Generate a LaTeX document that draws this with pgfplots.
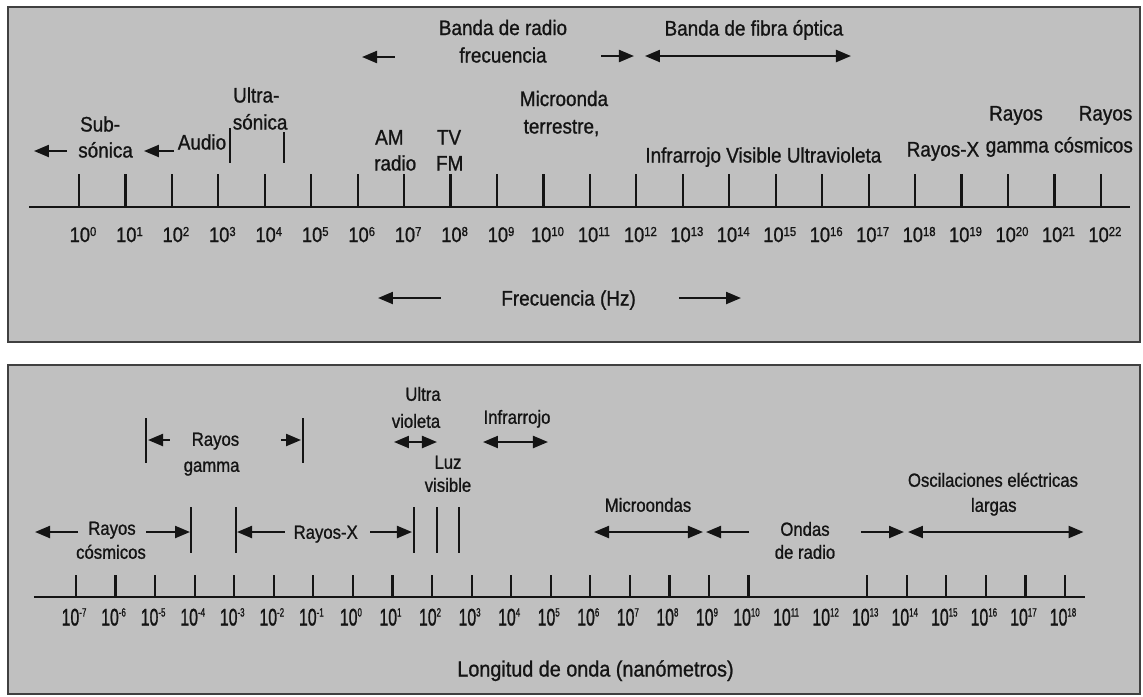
\documentclass[border=0pt]{standalone}
\usepackage{pgfplots}
\pgfplotsset{compat=1.18}
\usepackage{fontspec}
\setmainfont{Liberation Sans}
\newfontfamily\topf[FakeStretch=0.9,FakeBold=1]{Liberation Sans}
\newfontfamily\botf[FakeStretch=0.88,FakeBold=1]{Liberation Sans}
\newfontfamily\tickAf[FakeStretch=0.87,FakeBold=1]{Liberation Sans}
\newfontfamily\tickBf[FakeStretch=0.66,FakeBold=1]{Liberation Sans}
\usetikzlibrary{arrows.meta}
\definecolor{bgc}{RGB}{192,192,192}
\definecolor{framec}{RGB}{64,64,64}
\definecolor{ink}{RGB}{20,20,20}
\tikzset{
  tl/.style={font=\topf\fontsize{21}{21}\selectfont, text=ink, text height=15pt, text depth=0pt, inner sep=0pt, anchor=center},
  bl/.style={font=\botf\fontsize{19}{19}\selectfont, text=ink, text height=13.5pt, text depth=0pt, inner sep=0pt, anchor=center},
  tka/.style={font=\tickAf\fontsize{21}{21}\selectfont, text=ink, text height=15pt, text depth=0pt, inner sep=0pt, anchor=center},
  tkb/.style={font=\tickBf\fontsize{24}{24}\selectfont, text=ink, text height=17pt, text depth=0pt, inner sep=0pt, anchor=center},
  ar/.style={line width=2.2pt, draw=ink, -{Triangle[length=15pt,width=12pt]}},
  dar/.style={line width=2.2pt, draw=ink, {Triangle[length=15pt,width=12pt]}-{Triangle[length=15pt,width=12pt]}},
  vl/.style={line width=2.2pt, draw=ink},
}
\begin{document}
\begin{tikzpicture}
\useasboundingbox (0pt,0pt) rectangle (1143pt,-696pt);
% ---------------- top panel: frequency ----------------
\begin{axis}[at={(8pt,-7pt)}, anchor=north west, scale only axis,
  width=1132pt, height=335pt,
  xmin=-1.5285, xmax=22.842, ymin=7, ymax=342, y dir=reverse,
  xtick=\empty, ytick=\empty,
  axis background/.style={fill=bgc},
  axis line style={draw=framec, line width=2pt}, clip=false]
\addplot[vl, no markers] coordinates {(-1.076,207) (22.63,207)};
\addplot[vl, no markers, quiver={u=0,v=-33}] table {
x y
0 207
1 207
2 207
3 207
4 207
5 207
6 207
7 207
8 207
9 207
10 207
11 207
12 207
13 207
14 207
15 207
16 207
17 207
18 207
19 207
20 207
21 207
22 207
};
% tick labels 10^k
\pgfplotsinvokeforeach{0,...,22}{
  \node[tka, xshift=4pt] at (axis cs:#1,234.5) {10\raisebox{6pt}{\fontsize{13}{13}\selectfont #1}};
}
% marker lines
\addplot[vl, no markers] coordinates {(3.251,128) (3.251,163)};
\addplot[vl, no markers] coordinates {(4.413,132) (4.413,163)};
% arrows
\addplot[ar, no markers] coordinates {(-0.258,151) (-0.969,151)};
\addplot[ar, no markers] coordinates {(2.045,151) (1.399,151)};
\addplot[ar, no markers] coordinates {(6.803,57) (6.093,57)};
\addplot[ar, no markers] coordinates {(11.238,56) (11.948,56)};
\addplot[dar, no markers] coordinates {(12.185,56) (16.620,56)};
\addplot[ar, no markers] coordinates {(7.793,298) (6.437,298)};
\addplot[ar, no markers] coordinates {(12.917,298) (14.252,298)};
% labels
\node[tl, anchor=west] at (axis cs:0.02,124) {Sub-};
\node[tl, anchor=west] at (axis cs:-0.02,150) {sónica};
\node[tl] at (axis cs:2.648,142) {Audio};
\node[tl, anchor=west] at (axis cs:3.315,95) {Ultra-};
\node[tl, anchor=west] at (axis cs:3.307,122) {sónica};
\node[tl, anchor=west] at (axis cs:6.372,137) {AM};
\node[tl, anchor=west] at (axis cs:6.351,163) {radio};
\node[tl] at (axis cs:7.966,137) {TV};
\node[tl] at (axis cs:7.98,163) {FM};
\node[tl] at (axis cs:9.128,27.5) {Banda de radio};
\node[tl] at (axis cs:9.128,55) {frecuencia};
\node[tl] at (axis cs:10.441,98.5) {Microonda};
\node[tl] at (axis cs:10.387,126) {terrestre,};
\node[tl] at (axis cs:14.734,155) {Infrarrojo Visible Ultravioleta};
\node[tl] at (axis cs:18.60,149) {Rayos-X};
\node[tl] at (axis cs:20.172,113) {Rayos};
\node[tl] at (axis cs:20.2,145) {gamma};
\node[tl] at (axis cs:22.1,113) {Rayos};
\node[tl] at (axis cs:21.84,145) {cósmicos};
\node[tl] at (axis cs:14.53,28) {Banda de fibra óptica};
\node[tl] at (axis cs:10.54,298) {Frecuencia (Hz)};
\end{axis}
% ---------------- bottom panel: wavelength ----------------
\begin{axis}[at={(8pt,-365pt)}, anchor=north west, scale only axis,
  width=1132pt, height=329pt,
  xmin=-8.7189, xmax=19.896, ymin=365, ymax=694, y dir=reverse,
  xtick=\empty, ytick=\empty,
  axis background/.style={fill=bgc},
  axis line style={draw=framec, line width=2pt}, clip=false]
\addplot[vl, no markers] coordinates {(-8.062,597) (18.505,597)};
\addplot[vl, no markers, quiver={u=0,v=-22}] table {
x y
-7 597
-6 597
-5 597
-4 597
-3 597
-2 597
-1 597
0 597
1 597
2 597
3 597
4 597
5 597
6 597
7 597
8 597
9 597
10 597
13 597
14 597
15 597
16 597
17 597
18 597
};
% tick labels 10^k
\pgfplotsinvokeforeach{-7,...,18}{
  \node[tkb, xshift=-2pt] at (axis cs:#1,617) {10\raisebox{9pt}{\fontsize{12}{12}\selectfont #1}};
}
% marker lines
\addplot[vl, no markers] coordinates {(-4.093,507) (-4.093,553)};
\addplot[vl, no markers] coordinates {(-2.956,507) (-2.956,553)};
\addplot[vl, no markers] coordinates {(1.544,507) (1.544,553)};
\addplot[vl, no markers] coordinates {(2.125,507) (2.125,553)};
\addplot[vl, no markers] coordinates {(2.681,507) (2.681,553)};
\addplot[vl, no markers] coordinates {(-5.230,418) (-5.230,463)};
\addplot[vl, no markers] coordinates {(-1.272,418) (-1.272,463)};
% arrows
\addplot[ar, no markers] coordinates {(-6.949,532) (-8.036,532)};
\addplot[ar, no markers] coordinates {(-5.230,532) (-4.118,532)};
\addplot[ar, no markers] coordinates {(-1.717,532) (-2.930,532)};
\addplot[ar, no markers] coordinates {(0.432,532) (1.493,532)};
\addplot[ar, no markers] coordinates {(-4.624,440) (-5.180,440)};
\addplot[ar, no markers] coordinates {(-1.818,440) (-1.312,440)};
\addplot[dar, no markers] coordinates {(1.038,442) (2.125,442)};
\addplot[dar, no markers] coordinates {(3.288,442) (4.931,442)};
\addplot[dar, no markers] coordinates {(6.094,532) (8.849,532)};
\addplot[ar, no markers] coordinates {(10.012,532) (8.925,532)};
\addplot[ar, no markers] coordinates {(12.843,532) (13.930,532)};
\addplot[dar, no markers] coordinates {(14.031,532) (18.468,532)};
% labels
\node[bl] at (axis cs:-6.09,528) {Rayos};
\node[bl] at (axis cs:-6.115,552) {cósmicos};
\node[bl] at (axis cs:-0.688,532) {Rayos-X};
\node[bl] at (axis cs:-3.474,439) {Rayos};
\node[bl] at (axis cs:-3.572,465) {gamma};
\node[bl] at (axis cs:1.772,394) {Ultra};
\node[bl] at (axis cs:1.595,421) {violeta};
\node[bl] at (axis cs:4.148,417) {Infrarrojo};
\node[bl] at (axis cs:2.403,462) {Luz};
\node[bl] at (axis cs:2.403,485) {visible};
\node[bl] at (axis cs:7.459,505) {Microondas};
\node[bl] at (axis cs:11.428,529) {Ondas};
\node[bl] at (axis cs:11.428,552) {de radio};
\node[bl] at (axis cs:16.18,480) {Oscilaciones eléctricas};
\node[bl] at (axis cs:16.2,505) {largas};
\node[tl, font=\topf\fontsize{22}{22}\selectfont] at (axis cs:6.132,669) {Longitud de onda (nanómetros)};
\end{axis}
\end{tikzpicture}
\end{document}
